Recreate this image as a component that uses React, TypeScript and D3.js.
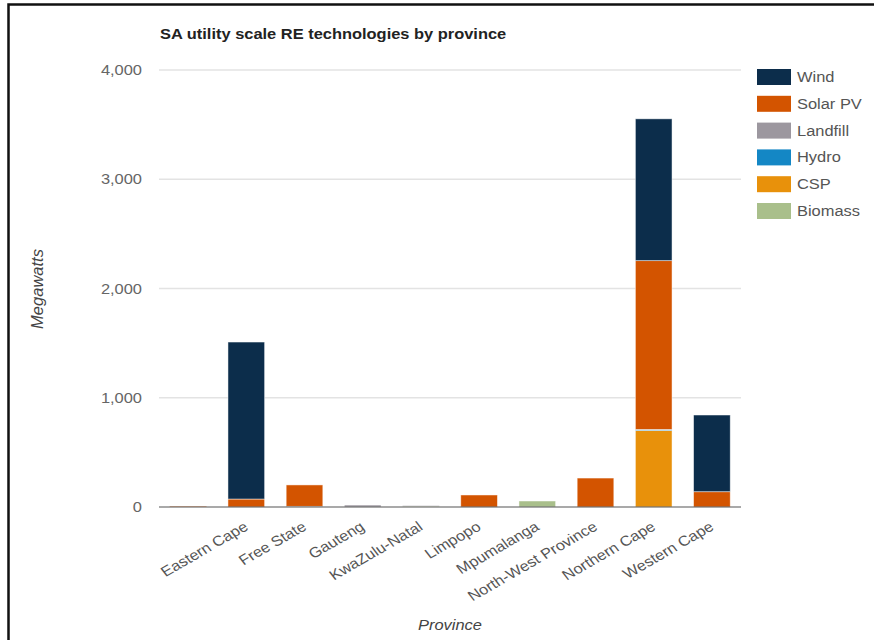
import React from "react";
import * as d3 from "d3";

const provinces = ["", "Eastern Cape", "Free State", "Gauteng", "KwaZulu-Natal", "Limpopo", "Mpumalanga", "North-West Province", "Northern Cape", "Western Cape"];
const legendOrder = ["Wind", "Solar PV", "Landfill", "Hydro", "CSP", "Biomass"];
const stackOrder = ["Biomass", "CSP", "Hydro", "Landfill", "Solar PV", "Wind"];
const windMW = [0, 1437, 0, 0, 0, 0, 0, 0, 1298, 702];
const solarMW = [8, 73, 196, 0, 0, 110, 0, 265, 1545, 140];
const landfillMW = [0, 0, 0, 18, 6, 0, 0, 0, 0, 0];
const hydroMW = [0, 0, 6, 0, 0, 0, 0, 0, 10, 0];
const cspMW = [0, 0, 0, 0, 0, 0, 0, 0, 700, 0];
const biomassMW = [0, 0, 0, 0, 8, 0, 55, 0, 0, 0];
const yTicks = [0, 1000, 2000, 3000, 4000];

const colors: Record<string, string> = {
  Wind: "#0c2d4b",
  "Solar PV": "#d35400",
  Landfill: "#9c979f",
  Hydro: "#1487c5",
  CSP: "#e8910b",
  Biomass: "#a9bf8b",
};

const seriesValues: Record<string, number[]> = {
  Wind: windMW,
  "Solar PV": solarMW,
  Landfill: landfillMW,
  Hydro: hydroMW,
  CSP: cspMW,
  Biomass: biomassMW,
};

const SX = 1.15;

function T(props: any) {
  const { x, y, children, extra = "", ...rest } = props;
  return (
    <text transform={`translate(${x},${y}) scale(${SX},1) ${extra}`} {...rest}>{children}</text>
  );
}

export default function App() {
  const W = 874, H = 640;
  const left = 159, right = 741, top = 70, bottom = 507;
  const font = "'Liberation Sans', Arial, sans-serif";
  const fs = 14.3;

  const rows = provinces.map((p, i) => {
    const r: any = { province: p, idx: i };
    stackOrder.forEach((s) => (r[s] = seriesValues[s][i]));
    return r;
  });
  const stacked = d3.stack<any>().keys(stackOrder)(rows);

  const x = d3.scaleBand<number>().domain(provinces.map((_, i) => i)).range([left, right]).paddingInner(0.37).paddingOuter(0.185);
  const y = d3.scaleLinear().domain([0, 4000]).range([bottom, top]);
  const fmt = d3.format(",");

  return (
    <svg width={W} height={H} style={{ position: "absolute", left: 0, top: 0, background: "#fff" }} fontFamily={font}>
      <rect x={0} y={0} width={W} height={H} fill="#fff" />
      <path d={`M8.5,${H} L8.5,4.5 L${W},4.5`} fill="none" stroke="#111" strokeWidth={2.5} />
      <T x={160} y={39} fontSize={fs} fontWeight="bold" fill="#222">SA utility scale RE technologies by province</T>

      {yTicks.map((t) => (
        <g key={t}>
          {t !== 0 && <line x1={left} x2={right} y1={y(t)} y2={y(t)} stroke="#e3e3e3" strokeWidth={1.5} />}
          <T x={142} y={y(t) + 5} textAnchor="end" fontSize={fs} fill="#666">{fmt(t)}</T>
        </g>
      ))}

      {stacked.map((layer) => (
        <g key={layer.key} fill={colors[layer.key]}>
          {layer.map((d, i) => {
            const h = y(d[0]) - y(d[1]);
            if (h <= 0) return null;
            return (
              <rect key={i} x={x(i)!} y={y(d[1])} width={x.bandwidth()} height={h} stroke="#fff" strokeOpacity={0.6} strokeWidth={0.8} />
            );
          })}
        </g>
      ))}

      <line x1={left} x2={right} y1={bottom} y2={bottom} stroke="#555" strokeWidth={1.2} />

      {provinces.map((p, i) => (
        <T key={i} x={x(i)! + x.bandwidth() / 2 + 3} y={bottom + 22} extra="rotate(-33.5)" textAnchor="end" fontSize={fs} fill="#555">{p}</T>
      ))}

      <text transform={`translate(43,289) rotate(-90)`} textAnchor="middle" fontSize={16.5} fontStyle="italic" fill="#444">Megawatts</text>
      <T x={450} y={630} textAnchor="middle" fontSize={fs} fontStyle="italic" fill="#444">Province</T>

      {legendOrder.map((s, i) => (
        <g key={s} transform={`translate(757,${69 + i * 26.8})`}>
          <rect width={34} height={16} fill={colors[s]} />
          <T x={40} y={13} fontSize={fs} fill="#555">{s}</T>
        </g>
      ))}
    </svg>
  );
}
